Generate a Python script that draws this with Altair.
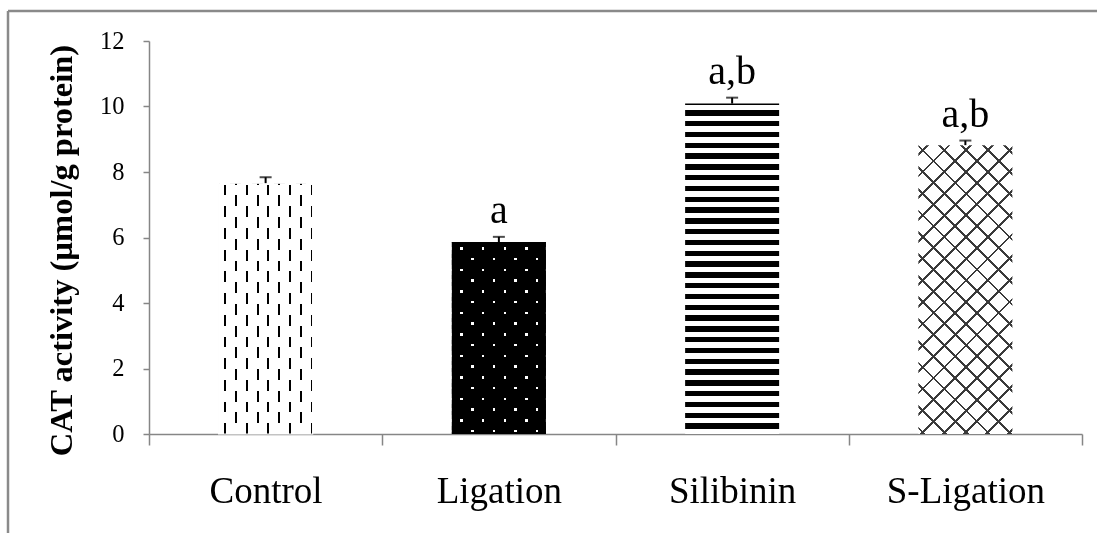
import math
import altair as alt
import pandas as pd

# ---- data ----
groups = ["Control", "Ligation", "Silibinin", "S-Ligation"]
cat_means = [7.66, 5.86, 10.09, 8.82]
cat_sem = [0.18, 0.16, 0.18, 0.14]
sig_letters = ["", "a", "a,b", "a,b"]
y_ticks = [0, 2, 4, 6, 8, 10, 12]

df = pd.DataFrame({"group": groups, "mean": cat_means, "sem": cat_sem, "label": sig_letters})
df["top"] = df["mean"] + df["sem"]

# ---- layout / style ----
PLOT_W, PLOT_H = 933, 393
Y_MAX = 12
BAR_W = 94
PX = PLOT_H / Y_MAX
bar_h = {g: v * PX for g, v in zip(groups, cat_means)}
FONT = "Liberation Serif"
AXIS_GRAY = "#868686"
CLEAR = "rgba(255,255,255,0)"


def periodic_stops(length, origin, pieces):
    period = sum(p for p, _ in pieces)
    k = math.floor(-origin / period) - 1
    pos = origin + k * period
    stops = []
    while pos < length:
        for size, color in pieces:
            a, b = pos, pos + size
            pos = b
            if b <= 0 or a >= length:
                continue
            a0, b0 = max(a, 0.0), min(b, length)
            stops.append(alt.GradientStop(offset=round(a0 / length, 5), color=color))
            stops.append(alt.GradientStop(offset=round(b0 / length, 5), color=color))
    return stops


def grad(stops, x1, y1, x2, y2):
    return alt.LinearGradient(gradient="linear", stops=stops, x1=x1, y1=y1, x2=x2, y2=y2)


def xgrad(stops):
    return grad(stops, 0, 0, 1, 0)


def ygrad(stops):
    return grad(stops, 0, 0, 0, 1)


x_enc = alt.X(
    "group:N",
    sort=groups,
    scale=alt.Scale(paddingInner=0, paddingOuter=0),
    axis=alt.Axis(
        title=None, labelAngle=0, labelFont=FONT, labelFontSize=37, labelColor="black",
        labelPadding=57, labelBaseline="alphabetic", tickBand="extent", tickSize=11,
        tickColor=AXIS_GRAY, tickWidth=1.5, domainColor=AXIS_GRAY, domainWidth=1.5,
        grid=False,
    ),
)
y_axis = alt.Axis(
    values=y_ticks, title="CAT activity (µmol/g protein)", titleFont=FONT,
    titleFontSize=32.5, titleFontWeight="bold", titleColor="black", titleAngle=270,
    titleX=-78, titleY=209, titleAlign="center", titleBaseline="alphabetic",
    labelFont=FONT, labelFontSize=24.5, labelColor="black", labelPadding=19,
    domainColor=AXIS_GRAY, domainWidth=1.5, tickColor=AXIS_GRAY, tickWidth=1.5,
    tickSize=6, grid=False,
)
y_scale = alt.Scale(domain=[0, Y_MAX])


def yq(field):
    return alt.Y(field, scale=y_scale, axis=y_axis)


base = alt.Chart(df).encode(x=x_enc, y=yq("mean:Q"))


def bar_layer(group, fill, blend=None, stroke=None):
    kw = dict(width=BAR_W, fill=fill, strokeWidth=0)
    if blend:
        kw["blend"] = blend
    if stroke:
        kw["stroke"] = stroke
        kw["strokeWidth"] = 1.2
    return base.transform_filter(alt.datum.group == group).mark_bar(**kw)


layers = []

# Control: staggered vertical dashes (checkerboard seen through thin columns)
d = 10.85
hC = bar_h["Control"]
layers.append(bar_layer("Control", xgrad(periodic_stops(BAR_W, 6.4 - d / 2, [(d, "white"), (d, "black")]))))
layers.append(bar_layer("Control", ygrad(periodic_stops(hC, 1.5, [(d, "white"), (d, "black")])), "difference"))
layers.append(bar_layer("Control", xgrad(periodic_stops(BAR_W, 6.4 - 1.0, [(2.0, CLEAR), (d - 2.0, "white")])), stroke="white"))

# Ligation: black with staggered white dots
dl, dy = 10.8, 10.75
hL = bar_h["Ligation"]
layers.append(bar_layer("Ligation", xgrad(periodic_stops(BAR_W, 9.7 - dl / 2, [(dl, "white"), (dl, "black")]))))
layers.append(bar_layer("Ligation", ygrad(periodic_stops(hL, 6.3 - dy / 2, [(dy, "black"), (dy, "white")])), "difference"))
layers.append(bar_layer("Ligation", xgrad(periodic_stops(BAR_W, 9.7 - 1.2, [(2.4, CLEAR), (dl - 2.4, "black")]))))
layers.append(bar_layer("Ligation", ygrad(periodic_stops(hL, 6.3 - 1.2, [(2.4, CLEAR), (dy - 2.4, "black")]))))

# Silibinin: horizontal stripes
hS = bar_h["Silibinin"]
layers.append(bar_layer("Silibinin", ygrad(periodic_stops(hS, 6.7 - 10.8, [(5.4, "black"), (5.4, "white")]))))

# S-Ligation: diagonal cross-hatch
hX = bar_h["S-Ligation"]
Lx = BAR_W + hX
q = BAR_W * BAR_W + hX * hX
gdx = BAR_W * Lx / q
gdy = hX * Lx / q
hatch = [(2.8, "#3a3a3a"), (21.7 - 2.8, CLEAR)]
layers.append(bar_layer("S-Ligation", "white"))
layers.append(bar_layer("S-Ligation", grad(periodic_stops(Lx, 9.3 - 1.4, hatch), 0, 0, gdx, gdy)))
layers.append(bar_layer("S-Ligation", grad(periodic_stops(Lx, hX - 0.7 - 1.4, hatch), 0, 1, gdx, 1 - gdy)))

# error bars (upper half) with caps
layers.append(base.mark_rule(color="black", strokeWidth=2).encode(y=yq("mean:Q"), y2="top:Q"))
layers.append(
    alt.Chart(df).mark_tick(color="black", thickness=2, size=12).encode(x=x_enc, y=yq("top:Q"))
)

# significance letters
layers.append(
    alt.Chart(df)
    .transform_filter("datum.label != ''")
    .mark_text(font=FONT, fontSize=40, dy=-14, baseline="alphabetic", color="black")
    .encode(x=x_enc, y=yq("top:Q"), text="label:N")
)

# outer frame (top and left edges of the original picture border)
frame_df = pd.DataFrame({"k": [0]})
layers.append(
    alt.Chart(frame_df).mark_rule(color="#8a8a8a", strokeWidth=2.5)
    .encode(x=alt.value(-141), x2=alt.value(970), y=alt.value(-30))
)
layers.append(
    alt.Chart(frame_df).mark_rule(color="#8a8a8a", strokeWidth=2.5)
    .encode(x=alt.value(-141), y=alt.value(-30), y2=alt.value(510))
)

chart = (
    alt.layer(*layers)
    .properties(
        width=PLOT_W,
        height=PLOT_H,
        padding={"left": 149, "top": 41, "right": 15, "bottom": 99},
        autosize=alt.AutoSizeParams(type="none"),
        background="white",
    )
    .configure_view(strokeWidth=0)
)

chart.save("out.html", embed_options={"renderer": "svg", "actions": False})
